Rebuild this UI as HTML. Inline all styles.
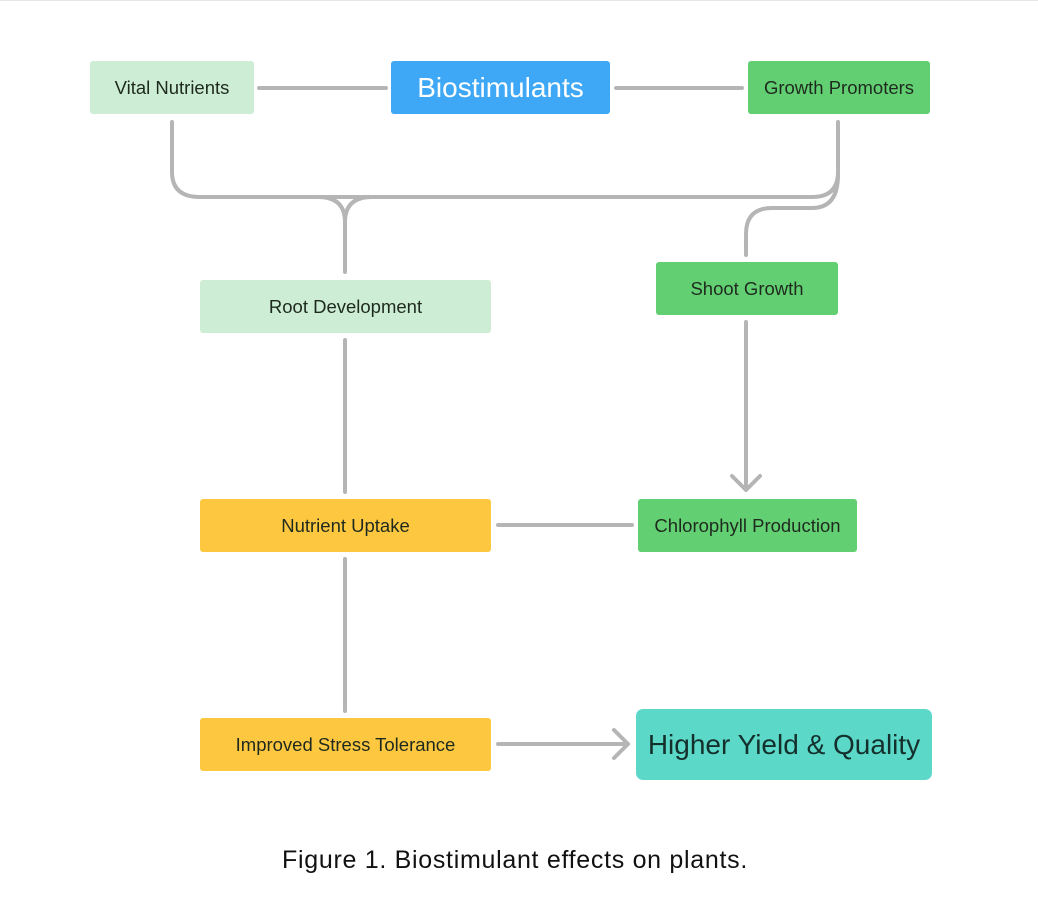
<!DOCTYPE html>
<html><head><style>
body{margin:0;background:#fff;width:1038px;height:899px;overflow:hidden;font-family:"Liberation Sans",sans-serif;}
.n{position:absolute;display:flex;align-items:center;justify-content:center;border-radius:3px;font-size:18.5px;color:#1f2a1f;}
</style></head><body>
<div style="position:absolute;left:0;top:0;width:1038px;height:1px;background:#e6e6e6"></div>
<svg width="1038" height="899" style="position:absolute;left:0;top:0" fill="none" stroke="#b5b5b5" stroke-width="4" stroke-linecap="round" stroke-linejoin="round">
<path d="M259 88H386M616 88H742"/>
<path d="M172 122V172Q172 197 200 197H812Q838 197 838 172V122"/>
<path d="M318 197Q345 197 345 222V272M372 197Q345 197 345 222"/>
<path d="M838 175Q838 208 812 208H772Q746 208 746 234V255"/>
<path d="M746 322V490M732 476L746 490L760 476"/>
<path d="M345 340V492M498 525H632M345 559V711M498 744H628M614 730L628 744L614 758"/>
</svg>
<div class="n" style="left:90px;top:61px;width:164px;height:53px;background:#cdeed5">Vital Nutrients</div>
<div class="n" style="left:391px;top:61px;width:219px;height:53px;background:#3ea8f6;color:#fff;font-size:28px">Biostimulants</div>
<div class="n" style="left:748px;top:61px;width:182px;height:53px;background:#62d072">Growth Promoters</div>
<div class="n" style="left:200px;top:280px;width:291px;height:53px;background:#cdeed5">Root Development</div>
<div class="n" style="left:656px;top:262px;width:182px;height:53px;background:#62d072">Shoot Growth</div>
<div class="n" style="left:200px;top:499px;width:291px;height:53px;background:#fdc840">Nutrient Uptake</div>
<div class="n" style="left:638px;top:499px;width:219px;height:53px;background:#62d072">Chlorophyll Production</div>
<div class="n" style="left:200px;top:718px;width:291px;height:53px;background:#fdc840">Improved Stress Tolerance</div>
<div class="n" style="left:636px;top:709px;width:296px;height:71px;background:#5cd8c8;font-size:28px;border-radius:7px;color:#14302c">Higher Yield &amp; Quality</div>
<div style="position:absolute;left:0;width:1030px;top:846px;text-align:center;font-size:25px;letter-spacing:0.7px;color:#111">Figure 1. Biostimulant effects on plants.</div>
</body></html>
